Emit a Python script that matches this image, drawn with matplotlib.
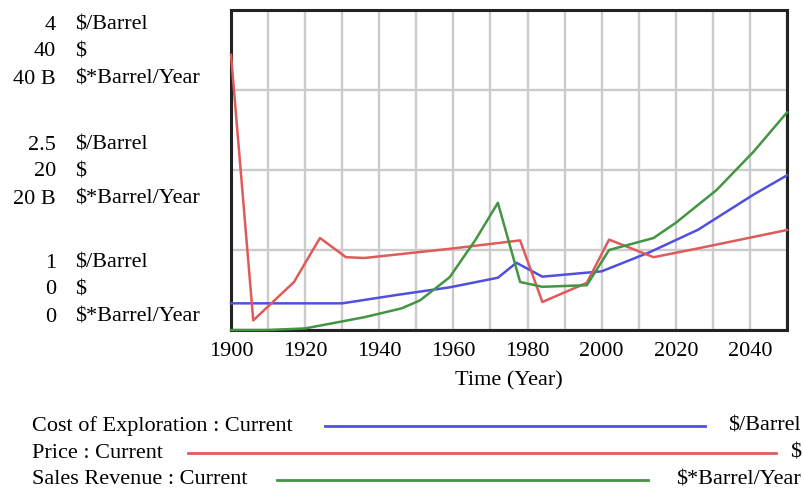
import matplotlib.pyplot as plt

plt.rcParams['font.family'] = ['Liberation Serif', 'DejaVu Serif']

# --- Data ---
cost_years = [1900, 1930, 1945, 1959, 1972, 1977, 1984, 2000, 2013, 2026, 2041, 2050]
cost = [1.25, 1.25, 1.33, 1.40, 1.49, 1.63, 1.50, 1.55, 1.73, 1.94, 2.27, 2.45]   # $/Barrel

price_years = [1900, 1906, 1917, 1924, 1931, 1936, 1946, 1960, 1978, 1984, 1996, 2002, 2014, 2026, 2050]
price = [34.4, 1.2, 6.0, 11.5, 9.1, 9.0, 9.5, 10.2, 11.2, 3.5, 5.9, 11.3, 9.1, 10.2, 12.5]   # $

rev_years = [1900, 1910, 1920, 1928, 1936, 1946, 1951, 1959, 1966, 1972, 1978, 1984,
             1996, 2002, 2014, 2020, 2031, 2041, 2050]
revenue_b = [0, 0, 0.2, 0.9, 1.6, 2.7, 3.7, 6.6, 11.3, 15.9, 6.0, 5.4,
             5.6, 10.0, 11.5, 13.4, 17.5, 22.3, 27.2]   # billions $*Barrel/Year

x_ticks = [1900, 1920, 1940, 1960, 1980, 2000, 2020, 2040]

# scale labels: (number, unit) per row, top / middle / bottom groups
left_labels = [
    [("4", "$/Barrel"), ("40", "$"), ("40 B", "$*Barrel/Year")],
    [("2.5", "$/Barrel"), ("20", "$"), ("20 B", "$*Barrel/Year")],
    [("1", "$/Barrel"), ("0", "$"), ("0", "$*Barrel/Year")],
]

blue = "#5050e0"
red = "#e05a5a"
green = "#439443"
fs = 16

fig = plt.figure(figsize=(8.04, 4.97), dpi=100)
ax = fig.add_axes([231 / 804, 1 - 330 / 497, 556 / 804, 320 / 497])
ax_p = ax.twinx()
ax_r = ax.twinx()

ax.set_xlim(1900, 2050)
ax.set_ylim(1, 4)
ax_p.set_ylim(0, 40)
ax_r.set_ylim(0, 40)

# grid
ax.set_xticks(x_ticks)
ax.set_xticks(range(1900, 2051, 10), minor=True)
ax.set_yticks([1, 1.75, 2.5, 3.25, 4])
ax.set_yticklabels([])
ax.grid(True, which="both", color="#cccccc", linewidth=1.7)
ax.set_axisbelow(True)
ax.tick_params(which="both", length=0)
ax.tick_params(axis="x", labelsize=fs, pad=9)
for a in (ax_p, ax_r):
    a.set_yticks([])
    for s in a.spines.values():
        s.set_visible(False)
for s in ax.spines.values():
    s.set_linewidth(2.2)
    s.set_color("#222222")

ax.set_xlabel("Time (Year)", fontsize=fs, labelpad=7)

# series
ax.plot(cost_years, cost, color=blue, lw=1.8, clip_on=False, zorder=3)
ax_p.plot(price_years, price, color=red, lw=1.8, clip_on=False, zorder=3)
ax_r.plot(rev_years, revenue_b, color=green, lw=1.8, clip_on=False, zorder=3)

# left stacked scale labels
group_tops = [25, 145, 263]
row_step = 27
for top, group in zip(group_tops, left_labels):
    for i, (num, unit) in enumerate(group):
        y = 1 - (top + i * row_step) / 497
        fig.text(56 / 804, y, num, ha="right", va="center", fontsize=fs)
        fig.text(75 / 804, y, unit, ha="left", va="center", fontsize=fs)

# legend rows
legend_rows = [
    ("Cost of Exploration : Current", blue, 325, 705, "$/Barrel"),
    ("Price : Current", red, 188, 776, "$"),
    ("Sales Revenue : Current", green, 277, 648, "$*Barrel/Year"),
]
for k, (name, col, x0, x1, unit) in enumerate(legend_rows):
    y = 1 - (426 + k * 27) / 497
    fig.text(32 / 804, y, name, ha="left", va="center", fontsize=fs)
    fig.add_artist(plt.Line2D([x0 / 804, x1 / 804], [y, y], color=col, lw=2))
    fig.text(801 / 804, y, unit, ha="right", va="center", fontsize=fs)

fig.savefig("out.png", dpi=100)
